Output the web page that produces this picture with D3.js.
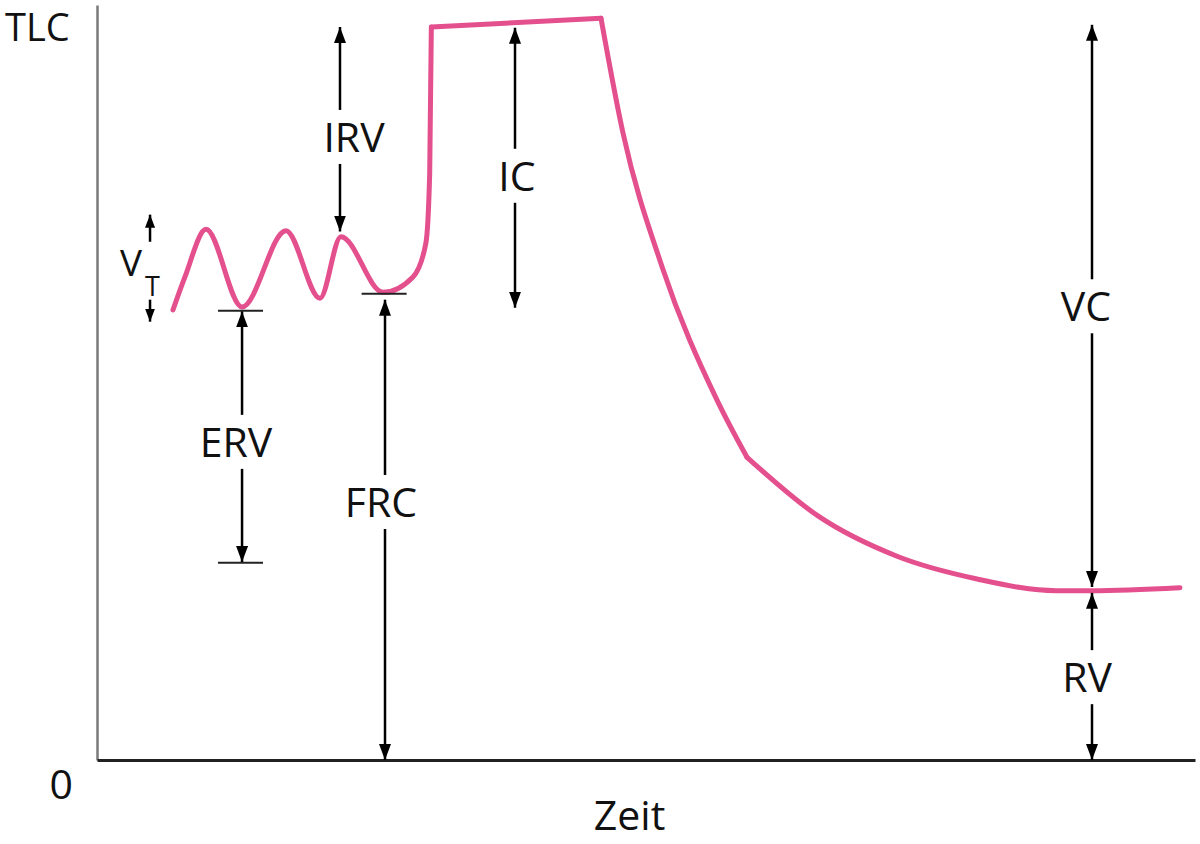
<!DOCTYPE html>
<html>
<head>
<meta charset="utf-8">
<script src="https://cdn.jsdelivr.net/npm/d3@7"></script>
<style>
  html, body { margin: 0; padding: 0; background: #fff; }
  svg { display: block; }
  text { font-family: "Open Sans", "Noto Sans", sans-serif; fill: #111; }
</style>
</head>
<body>
<svg id="chart" width="1200" height="844"></svg>
<script>
// ---------- data (time in arbitrary units, volume in % of TLC) ----------
const breathTime   = [6.92, 8.01, 9.93, 13.21, 17.21, 20.31, 22.22, 26.05, 28.78, 29.95, 30.30, 30.45];
const breathVolume = [61.4, 65.9, 72.4, 61.8, 72.2, 63.0, 71.4, 63.8, 65.9, 70.5, 80.0, 100.0];

const holdTime   = [30.45, 45.90];
const holdVolume = [100.0, 101.2];

const exhaleTime   = [45.90, 47.91, 51.46, 56.47, 59.20];
const exhaleVolume = [101.2, 85.5, 67.3, 49.1, 41.3];

const tailTime   = [59.20, 65.66, 72.86, 80.15, 87.34, 90.62, 98.63];
const tailVolume = [41.3, 33.3, 27.8, 24.7, 23.1, 23.1, 23.5];

const annotLabels = ["IRV", "IC", "ERV", "FRC", "VC", "RV"];
const annotTime   = [22.13, 38.07, 13.21, 26.23, 90.62, 90.62];
const annotTop    = [100.0, 99.9, 61.2, 62.8, 100.3, 22.8];
const annotBottom = [72.1, 61.7, 27.0, 0, 23.6, 0];
const annotMid    = [85.0, 79.7, 43.4, 35.2, 61.9, 11.3];

const markTimeFrom = [11.02, 11.02, 24.1];
const markTimeTo   = [15.12, 15.12, 28.2];
const markVolume   = [61.3, 26.9, 63.6];

const vtTime = 4.83;
const vtUp   = [70.7, 74.4];
const vtDown = [62.8, 59.8];

const yTickValues = [0, 100];
const yTickLabels = ["0", "TLC"];
const xAxisTitle = "Zeit";

// ---------- layout ----------
const svg = d3.select("#chart");
const x = d3.scaleLinear().domain([0, 100]).range([97, 1195]);
const y = d3.scaleLinear().domain([0, 103]).range([760, 5]);

const pink = "#e4508d";
const labelDx = [14, 2, -6, -4, -6, -5];
const gapHalf = 27;
const fontSize = 41;

// arrow markers
const defs = svg.append("defs");
defs.append("marker")
  .attr("id", "ah")
  .attr("markerUnits", "userSpaceOnUse")
  .attr("markerWidth", 16).attr("markerHeight", 12)
  .attr("refX", 16).attr("refY", 6)
  .attr("orient", "auto")
  .append("path").attr("d", "M0,0 L16,6 L0,12 Z").attr("fill", "#000");
defs.append("marker")
  .attr("id", "ahs")
  .attr("markerUnits", "userSpaceOnUse")
  .attr("markerWidth", 13).attr("markerHeight", 10)
  .attr("refX", 13).attr("refY", 5)
  .attr("orient", "auto")
  .append("path").attr("d", "M0,0 L13,5 L0,10 Z").attr("fill", "#000");

// y axis
const yAxis = d3.axisLeft(y)
  .tickValues(yTickValues)
  .tickSize(0)
  .tickPadding(24)
  .tickFormat((d, i) => yTickLabels[i]);
const gy = svg.append("g").attr("transform", `translate(${x(0)},0)`).call(yAxis);
gy.select(".domain").attr("stroke", "#7a7a7a").attr("stroke-width", 2.5);
gy.selectAll(".tick text")
  .attr("font-size", fontSize)
  .attr("font-family", "Open Sans, Noto Sans, sans-serif")
  .attr("fill", "#111")
  .attr("dy", (d) => d === 0 ? "0.95em" : "0.36em")
  .filter(d => d === 100)
  .attr("font-size", 38)
  .attr("text-anchor", "start")
  .attr("x", -x(0) + 5);

// x axis
const xAxis = d3.axisBottom(x).tickValues([]).tickSize(0).tickSizeOuter(0);
const gx = svg.append("g").attr("transform", `translate(0,${y(0)})`).call(xAxis);
gx.select(".domain").attr("stroke", "#222").attr("stroke-width", 3);

svg.append("text")
  .attr("x", x(48.5)).attr("y", y(0) + 70)
  .attr("text-anchor", "middle")
  .attr("font-size", fontSize)
  .text(xAxisTitle);

// curve
const lineGen = (curve) => d3.line().x(d => x(d[0])).y(d => y(d[1])).curve(curve);
const segments = [
  [d3.zip(breathTime, breathVolume), d3.curveMonotoneX],
  [d3.zip(holdTime, holdVolume), d3.curveLinear],
  [d3.zip(exhaleTime, exhaleVolume), d3.curveMonotoneX],
  [d3.zip(tailTime, tailVolume), d3.curveMonotoneX]
];
segments.forEach(([pts, curve]) => {
  svg.append("path")
    .attr("d", lineGen(curve)(pts))
    .attr("fill", "none")
    .attr("stroke", pink)
    .attr("stroke-width", 5)
    .attr("stroke-linejoin", "round")
    .attr("stroke-linecap", "round");
});

// short horizontal marks (ERV / FRC)
markVolume.forEach((v, i) => {
  svg.append("line")
    .attr("x1", x(markTimeFrom[i])).attr("x2", x(markTimeTo[i]))
    .attr("y1", y(v)).attr("y2", y(v))
    .attr("stroke", "#222").attr("stroke-width", 2);
});

// annotation arrows
annotLabels.forEach((lab, i) => {
  const ax = x(annotTime[i]);
  const yTop = y(annotTop[i]);
  const yBot = y(annotBottom[i]);
  const yMid = y(annotMid[i]);
  svg.append("line")
    .attr("x1", ax).attr("x2", ax)
    .attr("y1", yMid - gapHalf).attr("y2", yTop)
    .attr("stroke", "#000").attr("stroke-width", 2.5)
    .attr("marker-end", "url(#ah)");
  svg.append("line")
    .attr("x1", ax).attr("x2", ax)
    .attr("y1", yMid + gapHalf).attr("y2", yBot)
    .attr("stroke", "#000").attr("stroke-width", 2.5)
    .attr("marker-end", "url(#ah)");
  svg.append("text")
    .attr("x", ax + labelDx[i]).attr("y", yMid + 15)
    .attr("text-anchor", "middle")
    .attr("font-size", fontSize)
    .text(lab);
});

// V_T
const vx = x(vtTime);
svg.append("line")
  .attr("x1", vx).attr("x2", vx).attr("y1", y(vtUp[0])).attr("y2", y(vtUp[1]))
  .attr("stroke", "#000").attr("stroke-width", 2.5).attr("marker-end", "url(#ahs)");
svg.append("line")
  .attr("x1", vx).attr("x2", vx).attr("y1", y(vtDown[0])).attr("y2", y(vtDown[1]))
  .attr("stroke", "#000").attr("stroke-width", 2.5).attr("marker-end", "url(#ahs)");
const vt = svg.append("text").attr("x", 120).attr("y", 276).attr("font-size", 37);
vt.append("tspan").text("V");
vt.append("tspan").attr("x", 145).attr("y", 296).attr("font-size", 27).text("T");
</script>
</body>
</html>
